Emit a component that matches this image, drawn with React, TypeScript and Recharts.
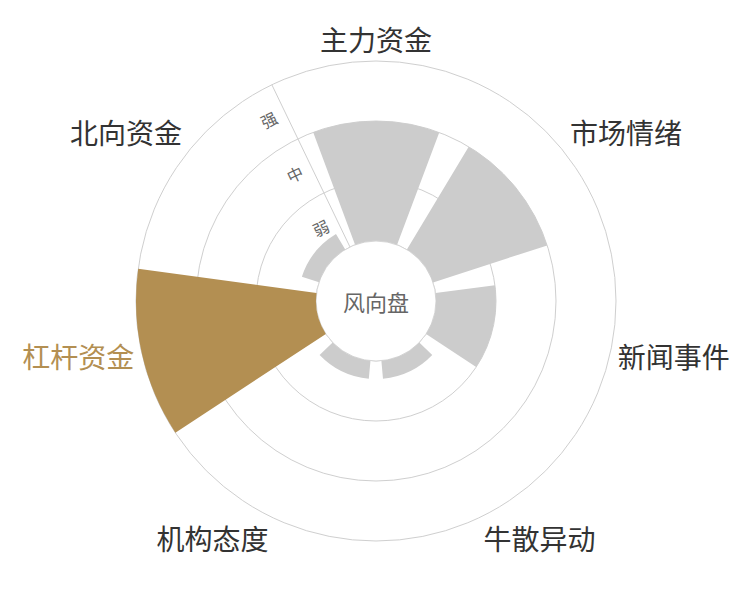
import React from "react";
import {
  RadialBarChart,
  RadialBar,
  PolarAngleAxis,
  PolarRadiusAxis,
  PolarGrid,
  Cell,
} from "recharts";

// 风向盘 - 7 factors, strength 0..3 (弱 / 中 / 强 bands)
const categories = ["主力资金", "市场情绪", "新闻事件", "牛散异动", "机构态度", "杠杆资金", "北向资金"];
const strength = [2, 2, 1, 0.3, 0.3, 3, 0.3];
const levels = ["弱", "中", "强"];
const highlight = "杠杆资金";

const data = categories.map((name, i) => ({ name, value: strength[i] }));

const WIDTH = 734;
const HEIGHT = 584;
const CX = 368;
const CY = 293;
const INNER = 60;
const OUTER = 240;
const STEP = 360 / categories.length;
// band scale puts category 0 at startAngle and bars grow counter-clockwise from it
const START = 90 - STEP / 2;
const AXIS_ANGLE = 90 + STEP / 2;

const GOLD = "#b38f52";
const GRAY = "#cccccc";
const FONT = '"Noto Sans CJK SC", "Noto Sans", sans-serif';
const LABEL_SIZE = 28;

const gridRadii = [0, 1, 2, 3].map((v) => INNER + ((OUTER - INNER) * v) / levels.length);
const levelTicks = [0, ...levels.map((_, i) => i + 0.5), levels.length];

function AngleTick(props: any) {
  const { payload } = props;
  const a = ((payload.coordinate + STEP / 2) * Math.PI) / 180;
  const cos = Math.cos(a);
  const sin = Math.sin(a);
  const r = OUTER + 8;
  const x = CX + r * cos;
  let y = CY - r * sin;
  // align like echarts: near the axis centre -> middle, otherwise push away
  if (Math.abs(sin) >= 0.3) y += sin > 0 ? -LABEL_SIZE / 2 : LABEL_SIZE / 2;
  const anchor = Math.abs(cos) < 0.3 ? "middle" : cos > 0 ? "start" : "end";
  return (
    <text
      x={x}
      y={y}
      textAnchor={anchor}
      dominantBaseline="central"
      fontSize={LABEL_SIZE}
      fontFamily={FONT}
      fill={payload.value === highlight ? GOLD : "#333"}
    >
      {payload.value}
    </text>
  );
}

function LevelTick(props: any) {
  const { x, y, payload } = props;
  const idx = Math.floor(payload.value);
  if (payload.value % 1 === 0) return <g />;
  return (
    <text
      x={x}
      y={y}
      dx={-18}
      textAnchor="middle"
      dominantBaseline="central"
      fontSize={16}
      fontFamily={FONT}
      fill="#666"
      transform={`rotate(${90 - AXIS_ANGLE}, ${x}, ${y})`}
    >
      {levels[idx]}
    </text>
  );
}

export default function App() {
  return (
    <div style={{ width: WIDTH, height: HEIGHT }}>
      <RadialBarChart
        width={WIDTH}
        height={HEIGHT}
        data={data}
        cx={CX}
        cy={CY}
        innerRadius={INNER}
        outerRadius={OUTER}
        startAngle={START}
        endAngle={START - 360}
        layout="centric"
        margin={{ top: 0, right: 0, bottom: 0, left: 0 }}
      >
        <PolarGrid
          gridType="circle"
          radialLines={false}
          polarRadius={gridRadii}
          stroke="#cfcfcf"
        />
        <PolarAngleAxis
          type="category"
          dataKey="name"
          axisLine={false}
          tickLine={false}
          tick={<AngleTick />}
        />
        <PolarRadiusAxis
          type="number"
          domain={[0, levels.length]}
          ticks={levelTicks}
          angle={AXIS_ANGLE}
          axisLine={{ stroke: "#cfcfcf" }}
          tick={<LevelTick />}
        />
        <RadialBar dataKey="value" isAnimationActive={false}>
          {data.map((d) => (
            <Cell key={d.name} fill={d.name === highlight ? GOLD : GRAY} />
          ))}
        </RadialBar>
        <circle cx={CX} cy={CY} r={INNER} fill="#fff" stroke="#d6d6d6" />
        <text
          x={CX}
          y={CY}
          textAnchor="middle"
          dominantBaseline="central"
          fontSize={22}
          fontFamily={FONT}
          fill="#666"
        >
          风向盘
        </text>
      </RadialBarChart>
    </div>
  );
}
